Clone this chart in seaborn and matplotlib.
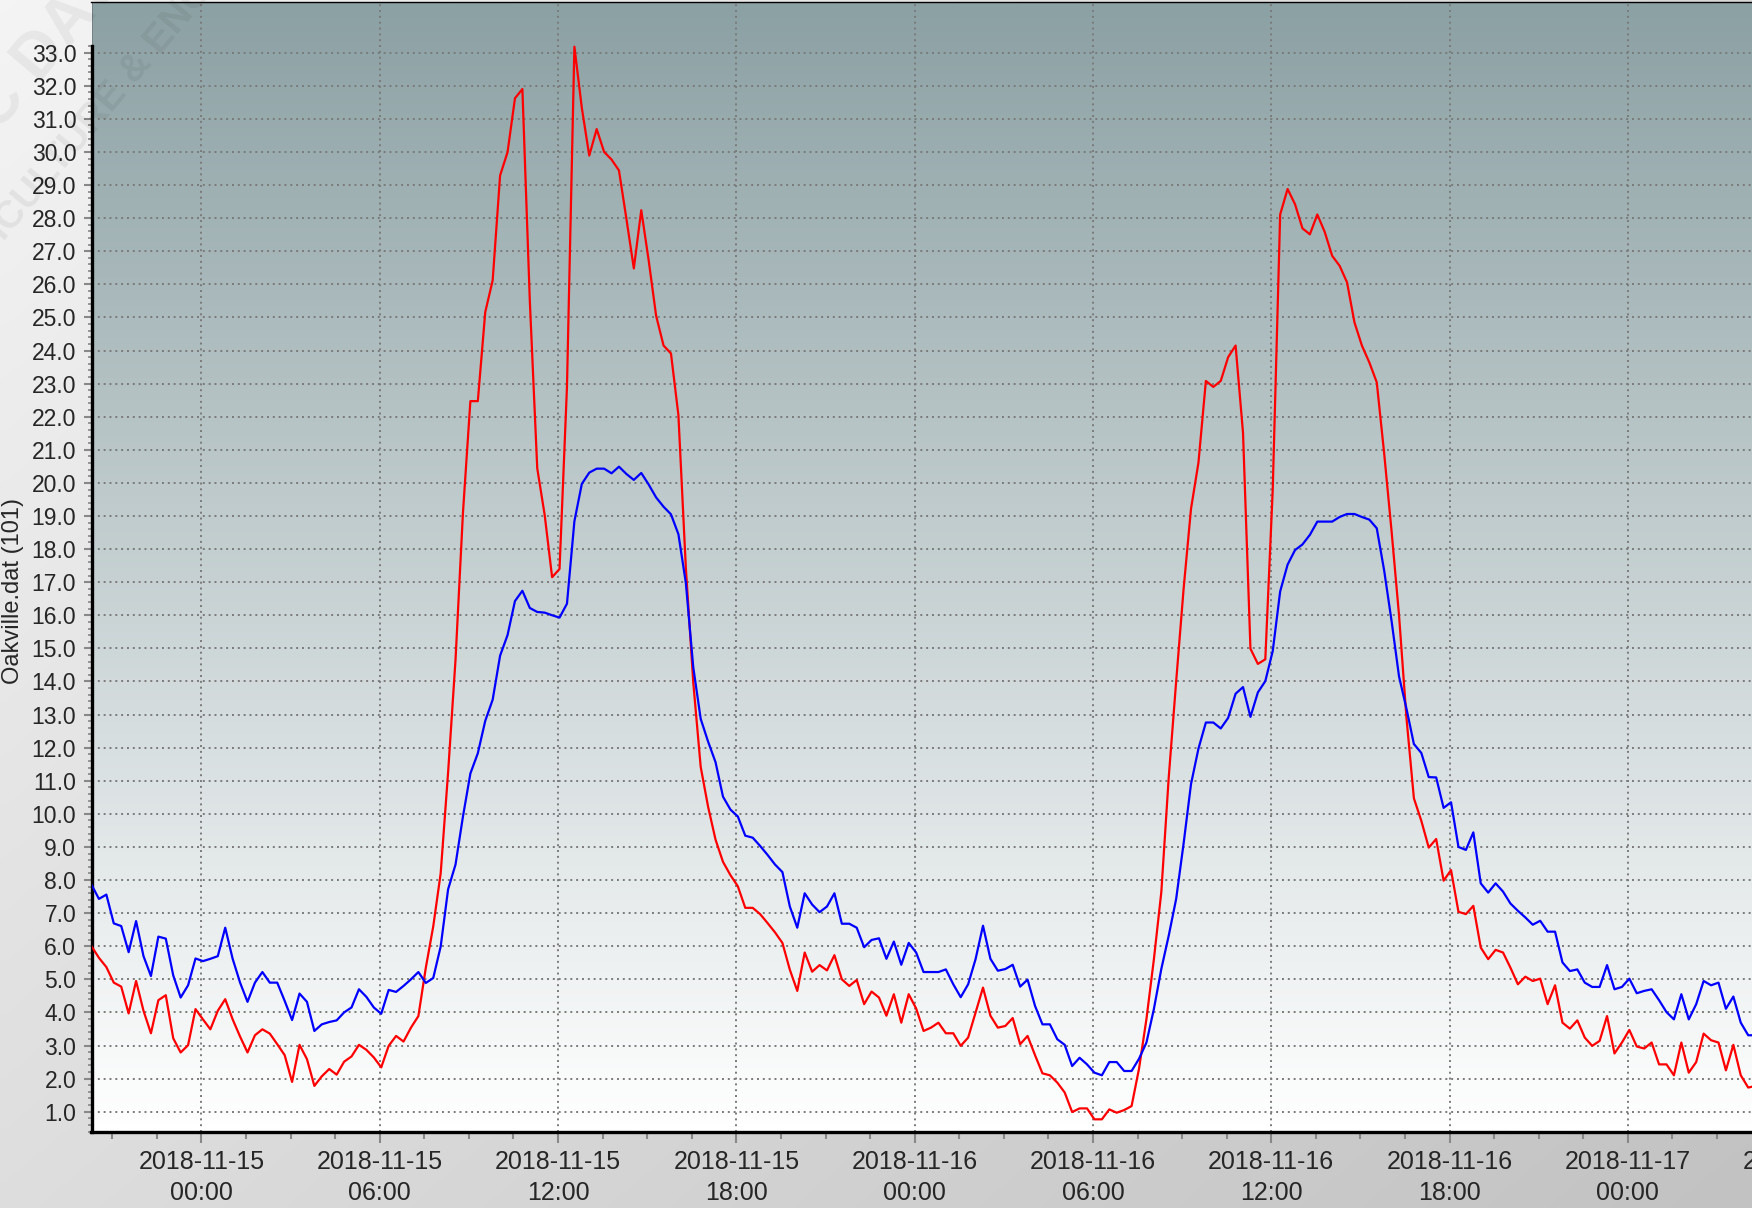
import numpy as np
import pandas as pd
import matplotlib
matplotlib.use("Agg")
import matplotlib.pyplot as plt
import matplotlib.dates as mdates
from matplotlib.ticker import MultipleLocator, FixedLocator, FormatStrFormatter
from matplotlib.colors import LinearSegmentedColormap
import seaborn as sns

sns.set_style("ticks")
plt.rcParams['font.family'] = ['Liberation Sans', 'DejaVu Sans']

# 15 minute readings, Oakville station
start_time = "2018-11-14 20:18"

red_vals = [
    6.0, 5.65, 5.37, 4.9, 4.78, 3.97, 4.95, 4.05, 3.37, 4.37,
    4.52, 3.22, 2.79, 3.01, 4.1, 3.79, 3.49, 4.05, 4.4, 3.79,
    3.27, 2.79, 3.31, 3.49, 3.36, 3.04, 2.71, 1.9, 3.02, 2.59,
    1.78, 2.07, 2.29, 2.12, 2.51, 2.67, 3.02, 2.87, 2.64, 2.34,
    2.99, 3.29, 3.12, 3.54, 3.89, 5.35, 6.6, 8.2, 11.25, 14.66,
    19.1, 22.47, 22.47, 25.16, 26.12, 29.29, 29.99, 31.62, 31.9, 25.5,
    20.44, 19.03, 17.15, 17.4, 22.9, 33.18, 31.33, 29.89, 30.69, 30.0,
    29.77, 29.44, 27.98, 26.48, 28.24, 26.72, 25.05, 24.15, 23.91, 22.05,
    17.44, 13.97, 11.42, 10.21, 9.22, 8.55, 8.15, 7.81, 7.16, 7.16,
    6.97, 6.7, 6.42, 6.1, 5.29, 4.65, 5.81, 5.23, 5.43, 5.27,
    5.73, 5.0, 4.8, 4.98, 4.25, 4.63, 4.45, 3.9, 4.55, 3.69,
    4.55, 4.12, 3.44, 3.54, 3.69, 3.37, 3.37, 2.99, 3.24, 4.0,
    4.75, 3.9, 3.54, 3.59, 3.83, 3.04, 3.29, 2.71, 2.16, 2.1,
    1.88, 1.58, 0.99, 1.1, 1.1, 0.77, 0.77, 1.07, 0.97, 1.05,
    1.17, 2.3, 3.8, 5.6, 7.63, 11.1, 14.0, 16.79, 19.22, 20.61,
    23.08, 22.9, 23.08, 23.8, 24.15, 21.51, 14.99, 14.53, 14.67, 19.8,
    28.11, 28.88, 28.42, 27.69, 27.51, 28.11, 27.58, 26.86, 26.56, 26.06,
    24.85, 24.15, 23.64, 23.04, 20.89, 18.53, 16.0, 12.9, 10.47, 9.79,
    8.98, 9.24, 7.98, 8.3, 7.04, 6.97, 7.22, 5.96, 5.61, 5.89,
    5.81, 5.35, 4.85, 5.08, 4.95, 5.02, 4.25, 4.82, 3.69, 3.51,
    3.76, 3.24, 2.99, 3.14, 3.89, 2.76, 3.09, 3.47, 2.97, 2.91,
    3.09, 2.43, 2.43, 2.1, 3.09, 2.18, 2.5, 3.36, 3.16, 3.09,
    2.25, 3.02, 2.1, 1.73, 1.78,
]

blue_vals = [
    7.86, 7.43, 7.56, 6.69, 6.61, 5.82, 6.76, 5.7, 5.1, 6.29,
    6.23, 5.12, 4.45, 4.82, 5.63, 5.55, 5.62, 5.7, 6.56, 5.62,
    4.9, 4.32, 4.9, 5.22, 4.9, 4.9, 4.35, 3.77, 4.57, 4.32,
    3.44, 3.64, 3.71, 3.76, 4.0, 4.15, 4.7, 4.47, 4.15, 3.96,
    4.68, 4.62, 4.8, 5.0, 5.22, 4.89, 5.04, 5.99, 7.72, 8.47,
    9.92, 11.22, 11.83, 12.81, 13.45, 14.78, 15.4, 16.43, 16.74, 16.22,
    16.1, 16.08, 16.0, 15.93, 16.35, 18.84, 19.97, 20.31, 20.43, 20.43,
    20.29, 20.49, 20.27, 20.09, 20.3, 19.95, 19.56, 19.28, 19.05, 18.45,
    16.98, 14.43, 12.87, 12.18, 11.56, 10.52, 10.13, 9.92, 9.34, 9.28,
    9.03, 8.76, 8.47, 8.24, 7.2, 6.56, 7.6, 7.26, 7.03, 7.2,
    7.6, 6.68, 6.68, 6.56, 5.97, 6.19, 6.24, 5.62, 6.14, 5.44,
    6.1, 5.81, 5.22, 5.22, 5.22, 5.3, 4.85, 4.46, 4.85, 5.61,
    6.62, 5.62, 5.26, 5.31, 5.44, 4.78, 4.99, 4.2, 3.64, 3.64,
    3.19, 3.02, 2.38, 2.63, 2.43, 2.18, 2.1, 2.5, 2.5, 2.23,
    2.23, 2.6, 3.09, 4.1, 5.31, 6.32, 7.43, 9.1, 10.9, 11.97,
    12.76, 12.76, 12.58, 12.9, 13.63, 13.83, 12.93, 13.67, 14.01, 14.92,
    16.72, 17.53, 17.97, 18.14, 18.43, 18.83, 18.83, 18.83, 18.97, 19.06,
    19.06, 18.97, 18.89, 18.63, 17.35, 15.82, 14.15, 13.18, 12.11, 11.84,
    11.11, 11.1, 10.18, 10.35, 9.0, 8.91, 9.44, 7.9, 7.62, 7.9,
    7.65, 7.29, 7.07, 6.87, 6.65, 6.77, 6.44, 6.44, 5.51, 5.25,
    5.3, 4.9, 4.77, 4.77, 5.43, 4.7, 4.77, 5.02, 4.58, 4.65,
    4.7, 4.37, 4.01, 3.79, 4.55, 3.79, 4.25, 4.95, 4.82, 4.9,
    4.11, 4.48, 3.69, 3.31, 3.31,
]

y_ticks = np.arange(1, 34)

times = pd.date_range(start_time, periods=len(red_vals), freq="15min")
df = pd.DataFrame({
    "time": np.concatenate([times, times]),
    "temp": red_vals + blue_vals,
    "series": ["red"] * len(red_vals) + ["blue"] * len(blue_vals),
})

W, H = 1752, 1208
fig = plt.figure(figsize=(W / 100, H / 100), dpi=100)

# grey figure background, lighter at top left
bg = fig.add_axes([0, 0, 1, 1], zorder=-10)
gx, gy = np.meshgrid(np.linspace(0, 1, 200), np.linspace(0, 1, 200))
bg.imshow(0.55 * gx + 0.45 * gy, cmap=LinearSegmentedColormap.from_list("bgc", ["#f4f4f4", "#c2c2c2"]),
          aspect="auto", extent=[0, 1, 1, 0], interpolation="bicubic")
bg.set_xlim(0, 1)
bg.set_ylim(1, 0)
bg.axis("off")

# watermark
fig.text(0.030, 0.965, "UC DAVIS", rotation=50, fontsize=46, fontweight="bold",
         color="#000000", alpha=0.05, ha="center", va="center", rotation_mode="anchor")
fig.text(0.067, 0.925, "VITICULTURE & ENOLOGY", rotation=50, fontsize=28, fontweight="bold",
         color="#000000", alpha=0.06, ha="center", va="center", rotation_mode="anchor")

left_px, top_px, bottom_px = 91.5, 2, 1132
right_frac = 1.06
ax_w_px = right_frac * W - left_px
ax = fig.add_axes([left_px / W, (H - bottom_px) / H, right_frac - left_px / W, (bottom_px - top_px) / H])

px_per_15 = 178.3 / 24
t0 = times[0]
t1 = t0 + pd.Timedelta(minutes=ax_w_px / px_per_15 * 15)
y0, y1 = 0.387, 34.53

# plot area gradient: white at the bottom, grey-teal at the top
grad = np.linspace(0, 1, 256).reshape(-1, 1)
ax.imshow(grad, cmap=LinearSegmentedColormap.from_list("axc", ["#ffffff", "#8ca1a4"]),
          origin="lower", aspect="auto",
          extent=[mdates.date2num(t0), mdates.date2num(t1), y0, y1],
          zorder=0, interpolation="bicubic")

sns.lineplot(data=df, x="time", y="temp", hue="series",
             palette={"red": "#ff0000", "blue": "#0000ff"},
             linewidth=1.6, legend=False, ax=ax, zorder=3)

ax.set_xlim(t0, t1)
ax.set_ylim(y0, y1)

ax.xaxis.set_major_locator(mdates.HourLocator(byhour=[0, 6, 12, 18]))
ax.xaxis.set_major_formatter(mdates.DateFormatter("%Y-%m-%d\n%H:%M"))
ax.xaxis.set_minor_locator(MultipleLocator(1.5 / 24))
ax.yaxis.set_major_locator(FixedLocator(y_ticks))
ax.yaxis.set_major_formatter(FormatStrFormatter("%.1f"))
ax.yaxis.set_minor_locator(FixedLocator(np.arange(0.4, 33.21, 0.2)))

ax.grid(True, which="major", color="#7a7a7a", linestyle=(0, (1, 2)), linewidth=1.4, zorder=1)
ax.set_axisbelow(True)

ax.tick_params(axis="x", which="major", length=8, width=1.5, color="#888888",
               labelsize=18, pad=5)
ax.tick_params(axis="x", which="minor", length=5, width=1.5, color="#888888")
ax.tick_params(axis="y", which="major", length=6, width=1.5, color="#888888",
               labelsize=16.5, pad=5)
ax.tick_params(axis="y", which="minor", length=3, width=1.2, color="#888888")
for lab in ax.get_xticklabels():
    lab.set_linespacing(1.35)

ax.set_xlabel("")
ax.set_ylabel("")
for side in ["top", "right"]:
    ax.spines[side].set_linewidth(1.0)
    ax.spines[side].set_color("#000000")
ax.spines["bottom"].set_linewidth(2.4)
ax.spines["bottom"].set_color("#000000")
ax.spines["left"].set_linewidth(2.4)
ax.spines["left"].set_color("#000000")
ax.spines["left"].set_bounds(y0, 33.2)
ax.axvline(t0, color="#000000", linewidth=1.0, zorder=5)

fig.text(13.5 / W, 1 - 590.5 / H, "Oakville.dat (101)", rotation=90,
         fontsize=17, ha="center", va="center")

fig.savefig("out.png", dpi=100)
